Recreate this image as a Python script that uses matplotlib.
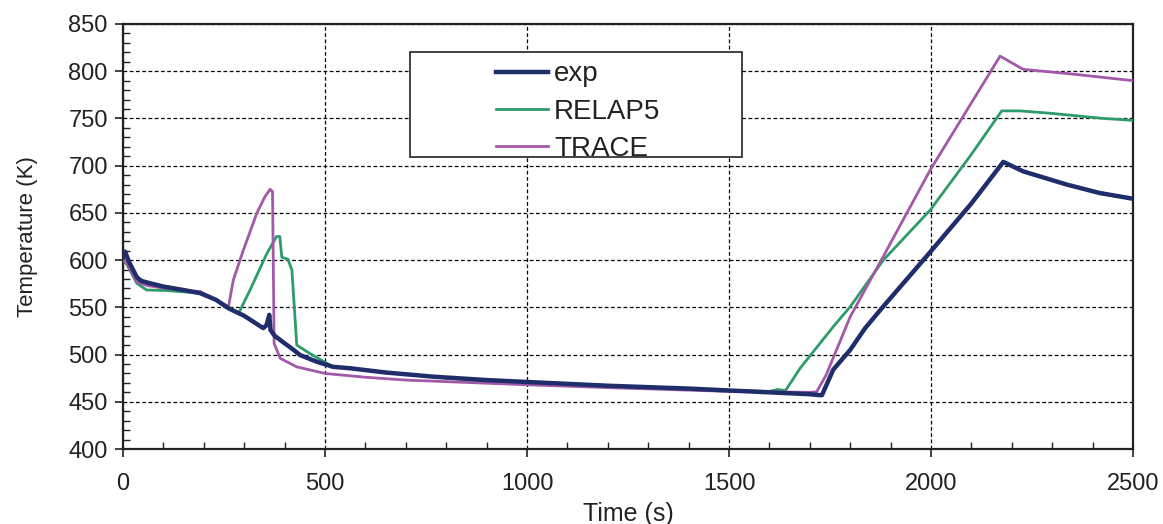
import matplotlib
matplotlib.use("Agg")
import matplotlib.pyplot as plt
from matplotlib.patches import Rectangle
from matplotlib.ticker import MultipleLocator

plt.rcParams['font.family'] = ['Liberation Sans', 'DejaVu Sans']

# ---- data ----
t_exp = [0, 5, 15, 34, 45, 67, 100, 149, 191, 230, 261, 300, 347, 355, 362, 365, 375, 389,
         422, 438, 479, 520, 562, 650, 768, 900, 1000, 1200, 1400, 1600, 1700, 1725, 1730,
         1758, 1800, 1837, 1882, 1989, 2100, 2179, 2228, 2336, 2418, 2500]
T_exp = [603, 609, 598, 582, 578, 575.5, 572, 568.4, 565, 558, 549, 541, 528, 531, 542, 526, 520, 515.4,
         505, 499.5, 492.5, 487, 485.5, 481, 476.6, 473, 471, 467, 464, 460, 458, 457, 457,
         484, 505, 528, 551, 604, 660, 704, 694, 680, 671, 665]

t_relap = [0, 10, 34, 58, 108, 191, 230, 261, 286, 314, 356, 380, 388, 393, 408, 418, 430, 463,
           520, 684, 800, 1000, 1200, 1400, 1600, 1620, 1640, 1676, 1758, 1800, 1882, 1998, 2100,
           2175, 2220, 2295, 2427, 2500]
T_relap = [600, 595, 575.5, 568.4, 567.8, 565, 558, 549, 543.6, 568, 607, 625, 625, 603, 601, 589.6, 510, 501,
           487, 480, 475, 469, 466, 463, 461, 463, 462, 485.5, 529.5, 550.7, 600, 653, 712,
           758, 758, 755.5, 750, 748]

t_trace = [0, 10, 34, 60, 108, 191, 230, 261, 273, 298, 331, 351, 364, 370, 374, 389, 430, 500,
           600, 700, 1000, 1200, 1500, 1700, 1717, 1740, 1800, 1882, 1998, 2171, 2228, 2350, 2500]
T_trace = [603, 596, 577, 573, 570, 566.6, 558, 550.7, 579, 610.8, 649.6, 667, 675, 672.5, 511.8, 496, 487, 480,
           476, 473, 468, 465, 461, 460, 460.6, 478, 540, 604, 695.4, 816, 802, 797, 790]

labels = ["exp", "RELAP5", "TRACE"]
colors = ["#1f2d6b", "#2e9b6b", "#a259a8"]

# ---- figure ----
fig = plt.figure(figsize=(11.63, 5.24), dpi=100)
ax = fig.add_axes([0.1058, 0.1431, 0.8684, 0.8111])

l1, = ax.plot(t_exp, T_exp, color=colors[0], lw=3.2, zorder=4, solid_joinstyle='round')
l2, = ax.plot(t_relap, T_relap, color=colors[1], lw=2.0, zorder=3)
l3, = ax.plot(t_trace, T_trace, color=colors[2], lw=2.0, zorder=3)

ax.set_xlim(0, 2500)
ax.set_ylim(400, 850)
ax.xaxis.set_major_locator(MultipleLocator(500))
ax.xaxis.set_minor_locator(MultipleLocator(100))
ax.yaxis.set_major_locator(MultipleLocator(50))
ax.yaxis.set_minor_locator(MultipleLocator(10))

ax.grid(True, which='major', color='black', linestyle=(0, (3, 2)), linewidth=0.9)
ax.set_axisbelow(True)

for s in ax.spines.values():
    s.set_linewidth(1.6)
    s.set_color('#222222')

ax.tick_params(which='major', direction='out', length=6, width=1.2, labelsize=17,
               colors='#222222', pad=5)
ax.tick_params(axis='x', which='major', pad=11)
ax.tick_params(which='minor', direction='in', length=5, width=1.0, colors='#222222')
ax.tick_params(top=False, right=False, which='both')

ax.set_xlabel("Time (s)", fontsize=18, labelpad=5, color='#222222')
ax.set_ylabel("Temperature (K)", fontsize=16, labelpad=22, color='#222222')

# legend box
ax.add_patch(Rectangle((0.284, 0.687), 0.329, 0.247, transform=ax.transAxes,
                       facecolor='white', edgecolor='#222222', linewidth=1.2, zorder=5))
leg = ax.legend([l1, l2, l3], labels, loc='upper left', bbox_to_anchor=(0.358, 0.938),
                frameon=False, fontsize=20, handlelength=1.9, handletextpad=0.2,
                labelspacing=0.4, borderaxespad=0)
leg.set_zorder(6)
for t in leg.get_texts():
    t.set_color('#222222')

fig.savefig("out.png", dpi=100)
